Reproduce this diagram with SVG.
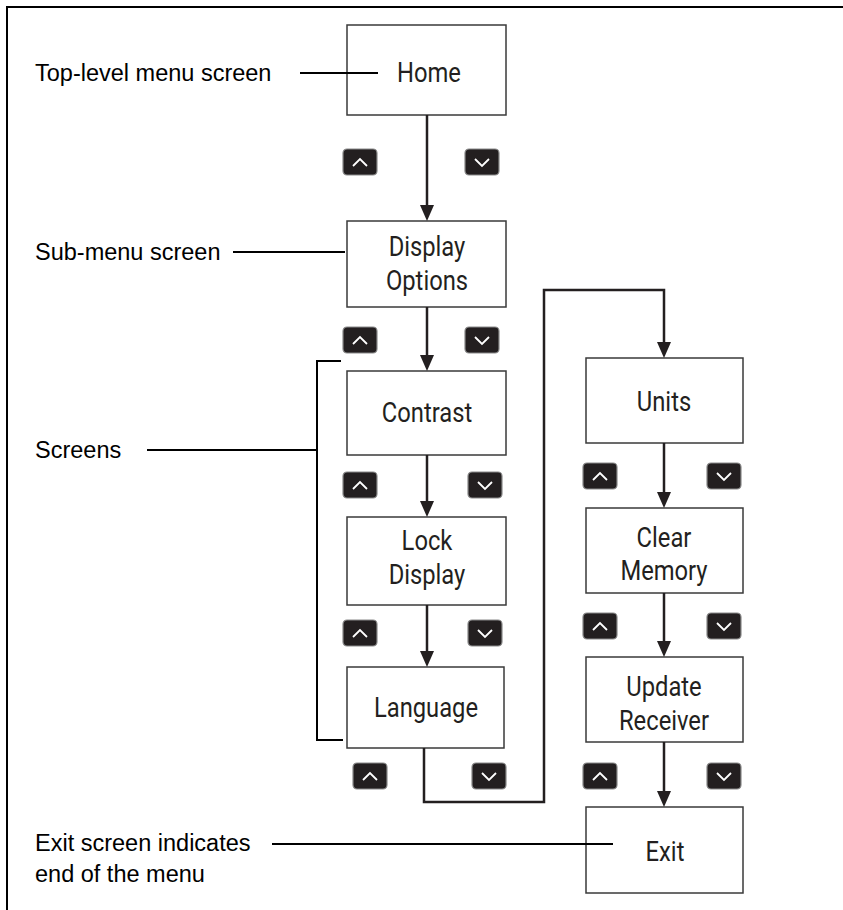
<svg xmlns="http://www.w3.org/2000/svg" width="843" height="910" viewBox="0 0 843 910">
<style>
.box{fill:#fff;stroke:#3a3a3a;stroke-width:1.5}
.bt{font-family:"Roboto","Liberation Sans",sans-serif;font-size:27px;fill:#231f20;text-anchor:middle}
.lbl{font-family:"Liberation Sans",Arial,sans-serif;font-size:23.5px;fill:#000}
.ln{stroke:#000;stroke-width:2;fill:none}
.cn{stroke:#231f20;stroke-width:2.5;fill:none}
.btn{fill:#231f20;stroke:#8a8a8a;stroke-width:1.2}
.chev{stroke:#fff;stroke-width:1.8;fill:none}
</style>
<defs>
<marker id="ah" markerWidth="16" markerHeight="14" refX="10" refY="7" orient="auto" markerUnits="userSpaceOnUse" viewBox="0 0 16 14">
<path d="M0,0 L16,7 L0,14 Z" fill="#231f20"/>
</marker>
<g id="up"><rect class="btn" x="0" y="0" width="34" height="26" rx="4"/><path class="chev" d="M10,17 L17,10 L24,17"/></g>
<g id="dn"><rect class="btn" x="0" y="0" width="34" height="26" rx="4"/><path class="chev" d="M10,10 L17,17 L24,10"/></g>
</defs>
<rect width="843" height="910" fill="#fff"/>
<g id="frame"><path class="ln" d="M7,910 L7,7 L843,7"/></g>

<g id="home"><rect class="box" x="347" y="25" width="159" height="90"/><g transform="translate(429 0) scale(0.88 1)"><text class="bt" x="0" y="82">Home</text></g></g>
<g id="display-options"><rect class="box" x="347" y="221" width="159" height="86"/><g transform="translate(427 0) scale(0.88 1)"><text class="bt" x="0" y="256">Display</text><text class="bt" x="0" y="290">Options</text></g></g>
<g id="contrast"><rect class="box" x="347" y="371" width="159" height="84"/><g transform="translate(427 0) scale(0.88 1)"><text class="bt" x="0" y="422">Contrast</text></g></g>
<g id="lock-display"><rect class="box" x="347" y="517" width="159" height="88"/><g transform="translate(427 0) scale(0.88 1)"><text class="bt" x="0" y="550">Lock</text><text class="bt" x="0" y="584">Display</text></g></g>
<g id="language"><rect class="box" x="347" y="667" width="157" height="81"/><g transform="translate(426 0) scale(0.88 1)"><text class="bt" x="0" y="717">Language</text></g></g>
<g id="units"><rect class="box" x="586" y="358" width="157" height="85"/><g transform="translate(664 0) scale(0.88 1)"><text class="bt" x="0" y="411">Units</text></g></g>
<g id="clear-memory"><rect class="box" x="586" y="508" width="157" height="85"/><g transform="translate(664 0) scale(0.88 1)"><text class="bt" x="0" y="547">Clear</text><text class="bt" x="0" y="580">Memory</text></g></g>
<g id="update-receiver"><rect class="box" x="586" y="657" width="157" height="85"/><g transform="translate(664 0) scale(0.88 1)"><text class="bt" x="0" y="696">Update</text><text class="bt" x="0" y="730">Receiver</text></g></g>
<g id="exit"><rect class="box" x="586" y="807" width="157" height="86"/><g transform="translate(665 0) scale(0.88 1)"><text class="bt" x="0" y="861">Exit</text></g></g>

<g id="connectors">
<line class="cn" x1="427" y1="115" x2="427" y2="215" marker-end="url(#ah)"/>
<line class="cn" x1="427" y1="307" x2="427" y2="365" marker-end="url(#ah)"/>
<line class="cn" x1="427" y1="455" x2="427" y2="511" marker-end="url(#ah)"/>
<line class="cn" x1="427" y1="605" x2="427" y2="661" marker-end="url(#ah)"/>
<path class="cn" d="M424,748 L424,802 L544,802 L544,290 L664,290 L664,352" marker-end="url(#ah)"/>
<line class="cn" x1="664" y1="443" x2="664" y2="502" marker-end="url(#ah)"/>
<line class="cn" x1="664" y1="593" x2="664" y2="651" marker-end="url(#ah)"/>
<line class="cn" x1="664" y1="742" x2="664" y2="801" marker-end="url(#ah)"/>
</g>

<g id="callouts">
<text class="lbl" x="35" y="81">Top-level menu screen</text>
<line class="ln" x1="300" y1="73" x2="378" y2="73"/>
<text class="lbl" x="35" y="260">Sub-menu screen</text>
<line class="ln" x1="233" y1="252" x2="345" y2="252"/>
<text class="lbl" x="35" y="458">Screens</text>
<line class="ln" x1="147" y1="450" x2="317" y2="450"/>
<path class="ln" d="M341,361 L317,361 L317,740 L343,740"/>
<text class="lbl" x="35" y="851">Exit screen indicates</text>
<text class="lbl" x="35" y="882">end of the menu</text>
<line class="ln" x1="272" y1="844" x2="613" y2="844"/>
</g>

<g id="buttons">
<use href="#up" x="343" y="149"/><use href="#dn" x="465" y="149"/>
<use href="#up" x="343" y="327"/><use href="#dn" x="465" y="327"/>
<use href="#up" x="343" y="472"/><use href="#dn" x="468" y="472"/>
<use href="#up" x="343" y="620"/><use href="#dn" x="468" y="620"/>
<use href="#up" x="353" y="763"/><use href="#dn" x="472" y="763"/>
<use href="#up" x="583" y="463"/><use href="#dn" x="707" y="463"/>
<use href="#up" x="583" y="613"/><use href="#dn" x="707" y="613"/>
<use href="#up" x="583" y="763"/><use href="#dn" x="707" y="763"/>
</g>
</svg>
